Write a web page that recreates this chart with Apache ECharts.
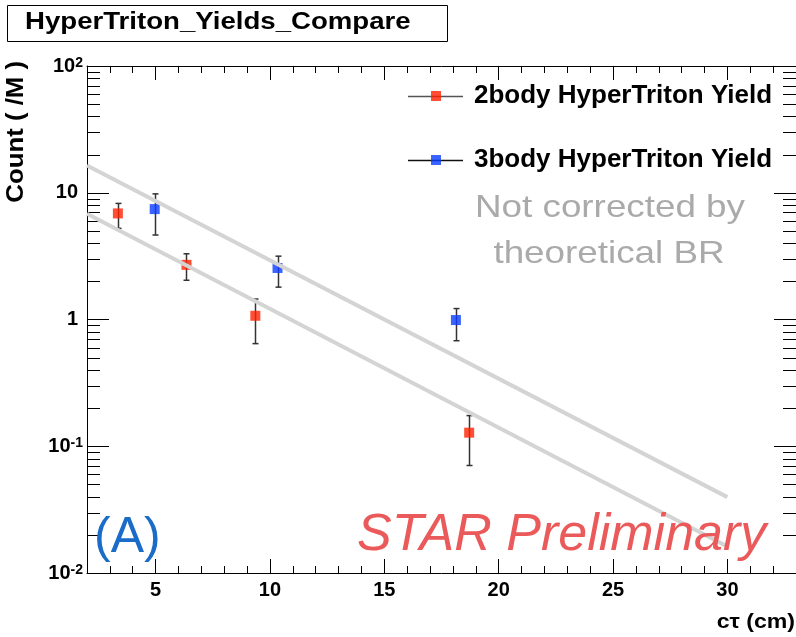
<!DOCTYPE html>
<html><head><meta charset="utf-8">
<script src="https://cdn.jsdelivr.net/npm/echarts@6/dist/echarts.min.js"></script>
<style>html,body{margin:0;padding:0;background:#fff}#c{width:796px;height:637px}</style>
</head><body><div id="c"></div>
<script>
// ---------- data ----------
const xRange = [2, 33];
const yRange = [0.01, 100];
const xMajorTicks = [5, 10, 15, 20, 25, 30];
const xMinorTicks = [3, 4, 6, 7, 8, 9, 11, 12, 13, 14, 16, 17, 18, 19, 21, 22, 23, 24, 26, 27, 28, 29, 31, 32];
const yMinorTicks = [0.02, 0.03, 0.04, 0.05, 0.06, 0.07, 0.08, 0.09,
                     0.2, 0.3, 0.4, 0.5, 0.6, 0.7, 0.8, 0.9,
                     2, 3, 4, 5, 6, 7, 8, 9,
                     20, 30, 40, 50, 60, 70, 80, 90];
const yTickLabels = { '100': '10{s|2}', '10': '{p|10}', '1': '{p|1}', '0.1': '10{s|-1}', '0.01': '10{s|-2}' };

const body2Name = '2body HyperTriton Yield';
const body2X    = [3.35, 6.35, 9.36, 18.71];
const body2Y    = [6.87, 2.70, 1.07, 0.128];
const body2Low  = [5.24, 2.04, 0.645, 0.0705];
const body2High = [8.24, 3.30, 1.45, 0.1745];

const body3Name = '3body HyperTriton Yield';
const body3X    = [4.96, 10.33, 18.13];
const body3Y    = [7.43, 2.55, 0.99];
const body3Low  = [4.64, 1.80, 0.68];
const body3High = [9.80, 3.16, 1.22];

const fitUpperX = [2, 30];
const fitUpperY = [16.4, 0.0397];
const fitLowerX = [2, 30];
const fitLowerY = [6.82, 0.0162];

// ---------- build ----------
const FONT = '"Liberation Sans", Arial, Helvetica, sans-serif';
const zip = (a, b) => a.map((v, i) => [v, b[i]]);
const zip3 = (a, b, c) => a.map((v, i) => [v, b[i], c[i]]);

function errRender(params, api) {
  const x = api.value(0);
  const lo = api.coord([x, api.value(1)]);
  const hi = api.coord([x, api.value(2)]);
  const cx = Math.round(lo[0]) + 0.5;
  const st = { stroke: '#333', lineWidth: 1.5 };
  return { type: 'group', children: [
    { type: 'line', shape: { x1: cx, y1: lo[1], x2: cx, y2: hi[1] }, style: st },
    { type: 'line', shape: { x1: cx - 3, y1: lo[1], x2: cx + 3, y2: lo[1] }, style: st },
    { type: 'line', shape: { x1: cx - 3, y1: hi[1], x2: cx + 3, y2: hi[1] }, style: st }
  ]};
}
function minorRender(params, api) {
  const v = api.value(1);
  const l = api.coord([xRange[0], v]);
  const r = api.coord([xRange[1], v]);
  const y = Math.round(l[1]) + 0.5;
  const st = { stroke: '#000', lineWidth: 1 };
  return { type: 'group', children: [
    { type: 'line', shape: { x1: l[0], y1: y, x2: l[0] + 13, y2: y }, style: st },
    { type: 'line', shape: { x1: r[0], y1: y, x2: r[0] - 13, y2: y }, style: st }
  ]};
}

const axLine = { show: true, onZero: false, lineStyle: { color: '#000', width: 1 } };
const noLine = { show: false };
function xAx(pos, ticks, len, labels) {
  return {
    type: 'value', min: xRange[0], max: xRange[1], position: pos,
    axisLine: labels !== null ? axLine : noLine,
    splitLine: { show: false },
    axisTick: { show: true, inside: true, length: len, customValues: ticks, lineStyle: { color: '#000', width: 1 } },
    axisLabel: labels ? { show: true, customValues: labels, margin: 7, color: '#000', fontSize: 20, fontWeight: 'bold', fontFamily: FONT } : { show: false }
  };
}

const option = {
  animation: false,
  textStyle: { fontFamily: FONT },
  grid: { left: 87, top: 66, width: 713, height: 507, containLabel: false },
  legend: {
    data: [body2Name, body3Name], orient: 'vertical', left: 431, top: 83, padding: 0,
    itemGap: 38, itemWidth: 10, itemHeight: 10, icon: 'rect', selectedMode: false,
    textStyle: { fontSize: 26, fontWeight: 'bold', color: '#000', fontFamily: FONT, padding: [0, 0, 0, 28] }
  },
  xAxis: [
    xAx('bottom', xMajorTicks, 14, xMajorTicks),
    xAx('bottom', xMinorTicks, 7, null),
    xAx('top', xMajorTicks, 14, false),
    xAx('top', xMinorTicks, 7, null)
  ],
  yAxis: [
    { type: 'log', logBase: 10, min: yRange[0], max: yRange[1], position: 'left',
      axisLine: axLine, splitLine: { show: false },
      axisTick: { show: true, inside: true, length: 22, lineStyle: { color: '#000' } },
      axisLabel: { show: true, margin: 4, color: '#000', fontSize: 20, fontWeight: 'bold', fontFamily: FONT,
        showMinLabel: true, showMaxLabel: true,
        formatter: v => yTickLabels[String(v)] || '',
        rich: {
          s: { fontSize: 14, fontWeight: 'bold', color: '#000', verticalAlign: 'top', fontFamily: FONT },
          p: { fontSize: 20, fontWeight: 'bold', color: '#000', padding: [0, 5, 0, 0], fontFamily: FONT }
        } } },
    { type: 'log', logBase: 10, min: yRange[0], max: yRange[1], position: 'right',
      axisLine: axLine, splitLine: { show: false },
      axisTick: { show: true, inside: true, length: 22, lineStyle: { color: '#000' } },
      axisLabel: { show: false } }
  ],
  series: [
    { type: 'custom', name: 'yMinor', silent: true, clip: false, z: 3,
      data: yMinorTicks.map(v => [xRange[0], v]), encode: { x: 0, y: 1 }, renderItem: minorRender },
    { type: 'custom', name: 'err2', silent: true, clip: false, z: 4,
      data: zip3(body2X, body2Low, body2High), encode: { x: 0, y: [1, 2] }, renderItem: errRender },
    { type: 'custom', name: 'err3', silent: true, clip: false, z: 4,
      data: zip3(body3X, body3Low, body3High), encode: { x: 0, y: [1, 2] }, renderItem: errRender },
    { type: 'scatter', name: body2Name, data: zip(body2X, body2Y), symbol: 'rect', symbolSize: 10,
      itemStyle: { color: '#ff2200' }, z: 5 },
    { type: 'scatter', name: body3Name, data: zip(body3X, body3Y), symbol: 'rect', symbolSize: 10,
      itemStyle: { color: '#0a3cff' }, z: 5 },
    { type: 'line', name: 'fitUpper', data: zip(fitUpperX, fitUpperY), symbol: 'none', silent: true,
      lineStyle: { color: '#d4d4d4', width: 4 }, z: 6 },
    { type: 'line', name: 'fitLower', data: zip(fitLowerX, fitLowerY), symbol: 'none', silent: true,
      lineStyle: { color: '#d4d4d4', width: 4 }, z: 6 }
  ],
  graphic: [
    { type: 'rect', shape: { x: 7.5, y: 5.5, width: 440, height: 36 }, style: { fill: '#fff', stroke: '#000', lineWidth: 1 }, z: 10 },
    { type: 'text', x: 25, y: 23, scaleX: 1.175, z: 11,
      style: { text: 'HyperTriton_Yields_Compare', font: 'bold 23.5px ' + FONT, fill: '#000', align: 'left', verticalAlign: 'middle' } },
    { type: 'text', x: 17, y: 61, rotation: Math.PI / 2, scaleX: 1.12, z: 11,
      style: { text: 'Count ( /M )', font: 'bold 23px ' + FONT, fill: '#000', align: 'right', verticalAlign: 'middle' } },
    { type: 'text', x: 795, y: 622, scaleX: 1.1, z: 11,
      style: { text: 'c\u03c4 (cm)', font: 'bold 21px ' + FONT, fill: '#000', align: 'right', verticalAlign: 'middle' } },
    { type: 'line', shape: { x1: 408, y1: 96.5, x2: 463, y2: 96.5 }, style: { stroke: '#555', lineWidth: 1.5 }, z: 1 },
    { type: 'line', shape: { x1: 408, y1: 160.5, x2: 463, y2: 160.5 }, style: { stroke: '#111', lineWidth: 1.5 }, z: 1 },
    { type: 'text', x: 610, y: 208.5, scaleX: 1.15, z: 11,
      style: { text: 'Not corrected by', font: '32px ' + FONT, fill: '#a9aaa9', align: 'center', verticalAlign: 'middle' } },
    { type: 'text', x: 609, y: 254.5, scaleX: 1.15, z: 11,
      style: { text: 'theoretical BR', font: '32px ' + FONT, fill: '#a9aaa9', align: 'center', verticalAlign: 'middle' } },
    { type: 'text', x: 94, y: 538, z: 11,
      style: { text: '(A)', font: '50px ' + FONT, fill: '#1a6cc8', align: 'left', verticalAlign: 'middle' } },
    { type: 'text', x: 357, y: 536, z: 11,
      style: { text: 'STAR Preliminary', font: 'italic 52px ' + FONT, fill: '#eb5a5a', align: 'left', verticalAlign: 'middle' } }
  ]
};

const chart = echarts.init(document.getElementById('c'), null, { renderer: 'canvas' });
chart.setOption(option);
</script>
</body></html>
